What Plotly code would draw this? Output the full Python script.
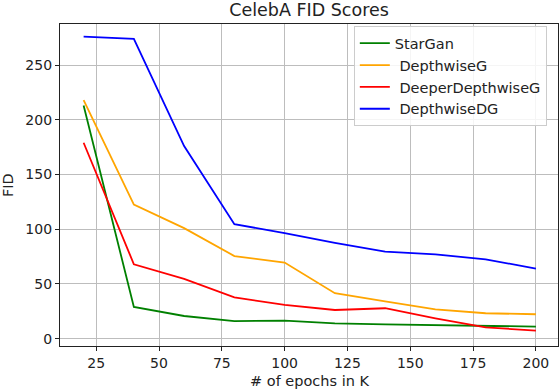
import plotly.graph_objects as go

epochs = [20, 40, 60, 80, 100, 120, 140, 160, 180, 200]
stargan = [213, 29, 20.7, 16, 16.5, 14, 13, 12.2, 11.6, 11]
depthwise_g = [218, 122.5, 101, 75.5, 69.5, 41.5, 34, 26.8, 23.2, 22.3]
deeper_depthwise_g = [179, 68, 54.6, 37.7, 30.8, 26.2, 27.8, 18.6, 10.4, 7.3]
depthwise_dg = [276, 274, 176, 104.6, 96.5, 87.5, 79.5, 77, 72.5, 64]

series = [
    ("StarGan", stargan, "green"),
    (" DepthwiseG", depthwise_g, "orange"),
    (" DeeperDepthwiseG", deeper_depthwise_g, "red"),
    (" DepthwiseDG", depthwise_dg, "blue"),
]

x_ticks = [25, 50, 75, 100, 125, 150, 175, 200]
y_ticks = [0, 50, 100, 150, 200, 250]

fig = go.Figure()
for name, vals, color in series:
    fig.add_trace(go.Scatter(x=epochs, y=vals, mode="lines", name=name,
                             line=dict(color=color, width=1.8)))

font = "DejaVu Sans, sans-serif"
axis_common = dict(showline=True, linecolor="#222", linewidth=1.3, mirror=True,
                   ticks="outside", ticklen=4, tickcolor="#222", tickwidth=1,
                   showgrid=True, gridcolor="#bdbdbd", gridwidth=1.3,
                   zeroline=False, automargin=False,
                   tickfont=dict(family=font, size=14, color="#222"))

fig.update_layout(
    width=560, height=392,
    margin=dict(l=60, r=2, t=24, b=46),
    paper_bgcolor="white", plot_bgcolor="white",
    title=dict(text="CelebA FID Scores", x=309/560, xanchor="center", y=1 - 10/392,
               yanchor="middle", font=dict(family=font, size=17.5, color="#222")),
    xaxis=dict(range=[10.6, 208.8], tickvals=x_ticks, **axis_common),
    yaxis=dict(range=[-6.7, 287.5], tickvals=y_ticks, **axis_common),
    legend=dict(x=0.590, y=0.993, xanchor="left", yanchor="top",
                bgcolor="rgba(255,255,255,0.85)", bordercolor="#cccccc", borderwidth=1,
                font=dict(family=font, size=14.5, color="#222")),
    showlegend=True,
    annotations=[
        dict(text="# of epochs in K", xref="paper", yref="paper",
             x=0.5, y=-(381 - 346) / 322, xanchor="center", yanchor="middle",
             showarrow=False, font=dict(family=font, size=14.5, color="#222")),
        dict(text="FID", xref="paper", yref="paper", textangle=-90,
             x=-(60 - 8) / 498, y=(346 - 185) / 322, xanchor="center", yanchor="middle",
             showarrow=False, font=dict(family=font, size=14.5, color="#222")),
    ],
)

fig.write_html("out.html", config={"displayModeBar": False},
               post_script="document.body.style.margin='0';document.body.style.overflow='hidden';")
